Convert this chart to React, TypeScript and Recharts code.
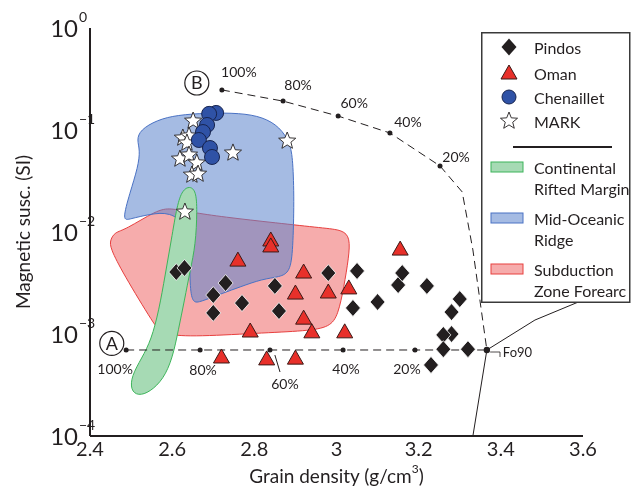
import React from 'react'
import { ScatterChart, Scatter, XAxis, YAxis, ReferenceDot, Legend } from 'recharts'

const FONT = 'Lato, "Open Sans", sans-serif'
const INK = '#231f20'

// samples
const pindosX = [2.61, 2.63, 2.73, 2.70, 2.70, 2.77, 2.85, 2.86, 2.98, 3.05, 3.04, 3.10, 3.15, 3.16, 3.22, 3.30, 3.28, 3.28, 3.26, 3.26, 3.32, 3.23]
const pindosY = [0.00405, 0.00444, 0.00316, 0.00241, 0.00161, 0.00201, 0.00296, 0.00168, 0.00396, 0.00415, 0.0018, 0.00206, 0.00302, 0.00396, 0.00296, 0.0022, 0.00164, 0.001, 0.00098, 0.00071, 0.00071, 0.000497]

const omanX = [2.84, 2.84, 2.76, 2.92, 2.90, 2.98, 3.03, 3.155, 2.92, 2.94, 2.79, 3.02, 2.72, 2.83, 2.90]
const omanY = [0.00835, 0.0073, 0.0053, 0.00405, 0.00252, 0.00258, 0.00283, 0.0068, 0.00143, 0.00105, 0.00107, 0.00105, 0.000595, 0.00057, 0.00058]

const chenX = [2.707, 2.69, 2.685, 2.675, 2.665, 2.692, 2.697]
const chenY = [0.147, 0.144, 0.112, 0.0955, 0.0798, 0.0666, 0.0544]

const markX = [2.651, 2.626, 2.641, 2.636, 2.619, 2.641, 2.66, 2.648, 2.663, 2.748, 2.88, 2.631]
const markY = [0.1225, 0.0835, 0.0873, 0.0746, 0.052, 0.0569, 0.0475, 0.0362, 0.037, 0.0596, 0.078, 0.0157]

// fields
const continentalX = [2.643, 2.658, 2.661, 2.657, 2.644, 2.630, 2.615, 2.601, 2.579, 2.546, 2.517, 2.499, 2.501, 2.526, 2.549, 2.568, 2.583, 2.598, 2.612, 2.625]
const continentalY = [0.02825, 0.02523, 0.01643, 0.00746, 0.00424, 0.00215, 0.00109, 0.000582, 0.000362, 0.00027, 0.000247, 0.000282, 0.000387, 0.000582, 0.000873, 0.00172, 0.00379, 0.00835, 0.01841, 0.02582]

const ridgeX = [2.478, 2.497, 2.517, 2.522, 2.514, 2.522, 2.563, 2.612, 2.685, 2.765, 2.821, 2.862, 2.887, 2.894, 2.897, 2.894, 2.887, 2.862, 2.819, 2.765, 2.724, 2.668, 2.651, 2.643, 2.643, 2.636, 2.595, 2.546, 2.497]
const ridgeY = [0.01282, 0.02411, 0.04338, 0.06368, 0.0798, 0.1, 0.1253, 0.1403, 0.1468, 0.1468, 0.1341, 0.107, 0.0746, 0.0508, 0.0206, 0.00667, 0.00405, 0.00362, 0.00346, 0.00289, 0.00252, 0.00206, 0.00201, 0.0027, 0.00667, 0.01172, 0.0157, 0.015, 0.0134]

const forearcX = [2.449, 2.461, 2.485, 2.563, 2.595, 2.643, 2.724, 2.855, 2.967, 3.016, 3.033, 3.030, 3.018, 3.004, 2.984, 2.928, 2.807, 2.643, 2.575, 2.558, 2.480, 2.449]
const forearcY = [0.00835, 0.01, 0.01047, 0.01643, 0.01719, 0.0157, 0.01403, 0.01225, 0.01094, 0.01047, 0.00873, 0.00569, 0.00289, 0.00154, 0.00117, 0.00107, 0.00102, 0.000935, 0.001, 0.0012, 0.00396, 0.00697]

// mixing curves
const curveBX = [2.721, 2.870, 3.004, 3.130, 3.252, 3.306, 3.332, 3.366]
const curveBY = [0.247, 0.192, 0.137, 0.0935, 0.0444, 0.0247, 0.00667, 0.000697]
const curveAX = [2.488, 2.668, 2.838, 3.016, 3.191, 3.366]
const curveAY = [0.000697, 0.000697, 0.000697, 0.000697, 0.000697, 0.000697]
const pctLabels = ['100%', '80%', '60%', '40%', '20%']
const leaderX = [2.850, 2.8625]
const leaderY = [0.000622, 0.000424]

const fo90X = [3.366]
const fo90Y = [0.000697]
const bracketX = [3.374, 3.398, 3.398]
const bracketY = [0.000666, 0.000666, 0.000595]
const upperX = [3.366, 3.483, 3.6]
const upperY = [0.000697, 0.00137, 0.00215]
const lowerX = [3.366, 3.332]
const lowerY = [0.000697, 0.0001]

const endLabels = ['A', 'B']
const endX = [2.453, 2.660]
const endY = [0.00081, 0.289]

const seriesNames = ['Pindos', 'Oman', 'Chenaillet', 'MARK']
const fieldNames = [['Continental', 'Rifted Margin'], ['Mid-Oceanic', 'Ridge'], ['Subduction', 'Zone Forearc']]

const xTicks = [2.4, 2.6, 2.8, 3, 3.2, 3.4, 3.6]
const yTicks = [0.0001, 0.001, 0.01, 0.1, 1]
const yExponents = ['−4', '−3', '−2', '−1', '0']
const minorTicks = yTicks.slice(0, 4).flatMap(d => [2, 3, 4, 5, 6, 7, 8, 9].map(m => m * d))

const pts = (xs: number[], ys: number[], labels?: string[]) =>
  xs.map((x, i) => ({ x, y: ys[i], i, label: labels ? labels[i] : undefined }))

const diamondPath = (cx: number, cy: number) => `M${cx},${cy - 8.5}L${cx + 7.5},${cy}L${cx},${cy + 8.5}L${cx - 7.5},${cy}Z`
const trianglePath = (cx: number, cy: number) => `M${cx},${cy - 8}L${cx + 8},${cy + 6}L${cx - 8},${cy + 6}Z`
const starPath = (cx: number, cy: number, R: number, r: number) => {
  const p: string[] = []
  for (let k = 0; k < 10; k++) {
    const a = (-90 + k * 36) * Math.PI / 180
    const rad = k % 2 === 0 ? R : r
    p.push(`${(cx + rad * Math.cos(a)).toFixed(2)},${(cy + rad * Math.sin(a)).toFixed(2)}`)
  }
  return `M${p.join('L')}Z`
}

const COLORS = {
  oman: '#e8302a',
  chen: '#2f52a6',
  green: '#a6dab4',
  greenLine: '#3db45a',
  blue: '#5b84cc',
  blueLine: '#4a72c4',
  pink: '#ee5a5a',
  pinkLine: '#e8403f'
}

const NoDot = () => <g />
const Diamond = (p: any) => <path d={diamondPath(p.cx, p.cy)} fill={INK} stroke="#fff" strokeWidth={0.8} />
const Triangle = (p: any) => <path d={trianglePath(p.cx, p.cy)} fill={COLORS.oman} stroke="#3b1a17" strokeWidth={1} />
const Dot = (p: any) => <circle cx={p.cx} cy={p.cy} r={7.5} fill={COLORS.chen} stroke="#17244f" strokeWidth={1} />
const Star = (p: any) => <path d={starPath(p.cx, p.cy, 9, 3.9)} fill="#fff" stroke={INK} strokeWidth={0.9} />

const bDx = [17, 15, 16, 18, 16]
const bDy = [-18, -17, -14, -11, -9]
const aDx = [-11, 3, 15, 3, -8]
const aDy = [19, 20, 34, 19, 19]

const pctShape = (dx: number[], dy: number[]) => (p: any) => {
  const i = p.payload.i
  return (
    <g>
      <circle cx={p.cx} cy={p.cy} r={2.5} fill={INK} />
      <text x={p.cx + dx[i]} y={p.cy + dy[i]} textAnchor="middle" dominantBaseline="central" fontSize={14} fontFamily={FONT} fill={INK}>
        {p.payload.label}
      </text>
    </g>
  )
}

const Fo90Shape = (p: any) => (
  <g>
    <circle cx={p.cx} cy={p.cy} r={3.2} fill={INK} />
    <text x={p.cx + 16} y={p.cy + 2} dominantBaseline="central" fontSize={13} fontFamily={FONT} fill={INK}>Fo90</text>
  </g>
)

function YTick(props: any) {
  const { x, y, payload } = props
  const k = yTicks.findIndex(t => Math.abs(Math.log10(t) - Math.log10(payload.value)) < 1e-6)
  return (
    <g fontFamily={FONT} fill={INK}>
      <text x={x} y={y - 1} textAnchor="end" dominantBaseline="central" fontSize={24}>10</text>
      <text x={x + 1} y={y - 12} dominantBaseline="central" fontSize={14}>{yExponents[k]}</text>
    </g>
  )
}

const YLabel = (p: any) => {
  const vb = p.viewBox ?? { x: 30, y: 28, width: 60, height: 408 }
  const cx = vb.x - 8
  const cy = vb.y + vb.height / 2
  return (
    <text x={cx} y={cy} transform={`rotate(-90, ${cx}, ${cy})`} textAnchor="middle" dominantBaseline="central" fontSize={19} fontFamily={FONT} fill={INK}>
      Magnetic susc. (SI)
    </text>
  )
}

const XLabel = (p: any) => {
  const vb = p.viewBox ?? { x: 90, y: 436, width: 493, height: 40 }
  return (
    <text x={vb.x + vb.width / 2} y={vb.y + 39} textAnchor="middle" dominantBaseline="central" fontSize={19} fontFamily={FONT} fill={INK}>
      <tspan>Grain density (g/cm</tspan>
      <tspan dy={-7} fontSize={12}>3</tspan>
      <tspan dy={7}>)</tspan>
    </text>
  )
}

function LegendBox() {
  const glyphs = [
    <path key="d" d={diamondPath(28, 15)} fill={INK} />,
    <path key="t" d={trianglePath(28, 41)} fill={COLORS.oman} stroke="#3b1a17" strokeWidth={1} />,
    <circle key="c" cx={28} cy={65} r={7} fill={COLORS.chen} stroke="#17244f" strokeWidth={1} />,
    <path key="s" d={starPath(28, 89, 9, 3.9)} fill="#fff" stroke={INK} strokeWidth={0.9} />
  ]
  const swatch = [
    { fill: COLORS.green, stroke: COLORS.greenLine, op: 1 },
    { fill: COLORS.blue, stroke: COLORS.blueLine, op: 0.55 },
    { fill: COLORS.pink, stroke: COLORS.pinkLine, op: 0.5 }
  ]
  const rowY = [15, 41, 65, 89]
  const fieldY = [135, 186, 237]
  return (
    <svg width={150} height={271} style={{ overflow: 'visible', display: 'block' }}>
      <rect x={0.75} y={0.75} width={148} height={269.5} fill="#fff" stroke="#3a3a3a" strokeWidth={1.5} />
      {glyphs}
      {seriesNames.map((n, i) => (
        <text key={n} x={53} y={rowY[i]} dominantBaseline="central" fontSize={16} fontFamily={FONT} fill={INK}>{n}</text>
      ))}
      <line x1={32} x2={131} y1={115} y2={115} stroke={INK} strokeWidth={2} />
      {fieldNames.map((lines, i) => (
        <g key={lines[0]}>
          <rect x={10} y={fieldY[i] - 5} width={32} height={10} fill={swatch[i].fill} fillOpacity={swatch[i].op} stroke={swatch[i].stroke} strokeWidth={1} />
          <text x={53} y={fieldY[i]} dominantBaseline="central" fontSize={16} fontFamily={FONT} fill={INK}>{lines[0]}</text>
          <text x={53} y={fieldY[i] + 21} dominantBaseline="central" fontSize={16} fontFamily={FONT} fill={INK}>{lines[1]}</text>
        </g>
      ))}
    </svg>
  )
}

const axisLine = { stroke: INK, strokeWidth: 2 }
const tickLine = { stroke: INK, strokeWidth: 1.3 }

export default function App() {
  return (
    <div style={{ position: 'absolute', left: 0, top: 0 }}>
      <ScatterChart width={631} height={489} margin={{ top: 28, right: 48, bottom: 13, left: 30 }}>
        <XAxis type="number" dataKey="x" domain={[2.4, 3.6]} ticks={xTicks} allowDataOverflow height={40}
          tickLine={false} tickSize={0} tickMargin={8} axisLine={axisLine}
          tick={{ fontSize: 20, fill: INK, fontFamily: FONT, dy: -2 }} label={XLabel} />
        <XAxis xAxisId="bm" type="number" domain={[2.4, 3.6]} ticks={xTicks} allowDataOverflow orientation="bottom" mirror height={0}
          axisLine={false} tick={false} tickSize={6} tickLine={tickLine} />
        <XAxis xAxisId="top" type="number" domain={[2.4, 3.6]} ticks={xTicks} allowDataOverflow orientation="top" mirror height={0}
          axisLine={axisLine} tick={false} tickSize={6} tickLine={tickLine} />
        <YAxis type="number" dataKey="y" scale="log" domain={[0.0001, 1]} ticks={yTicks} allowDataOverflow width={60}
          tickLine={false} tickSize={0} tickMargin={12} axisLine={axisLine} tick={<YTick />} label={YLabel} />
        <YAxis yAxisId="lmaj" type="number" scale="log" domain={[0.0001, 1]} ticks={yTicks} allowDataOverflow mirror width={0}
          axisLine={false} tick={false} tickSize={7} tickLine={tickLine} />
        <YAxis yAxisId="lmin" type="number" scale="log" domain={[0.0001, 1]} ticks={minorTicks} allowDataOverflow mirror width={0}
          axisLine={false} tick={false} tickSize={3.5} tickLine={tickLine} />
        <YAxis yAxisId="rmaj" type="number" scale="log" domain={[0.0001, 1]} ticks={yTicks} allowDataOverflow orientation="right" mirror width={0}
          axisLine={axisLine} tick={false} tickSize={7} tickLine={tickLine} />
        <YAxis yAxisId="rmin" type="number" scale="log" domain={[0.0001, 1]} ticks={minorTicks} allowDataOverflow orientation="right" mirror width={0}
          axisLine={false} tick={false} tickSize={3.5} tickLine={tickLine} />

        <Scatter name="Subduction Zone Forearc" data={pts(forearcX, forearcY)} shape={NoDot} isAnimationActive={false} legendType="none"
          line={{ fill: COLORS.pink, fillOpacity: 0.5, stroke: COLORS.pinkLine, strokeWidth: 1 }} lineJointType="basisClosed" />
        <Scatter name="Mid-Oceanic Ridge" data={pts(ridgeX, ridgeY)} shape={NoDot} isAnimationActive={false} legendType="none"
          line={{ fill: COLORS.blue, fillOpacity: 0.55, stroke: COLORS.blueLine, strokeWidth: 1 }} lineJointType="basisClosed" />
        <Scatter name="Continental Rifted Margin" data={pts(continentalX, continentalY)} shape={NoDot} isAnimationActive={false} legendType="none"
          line={{ fill: COLORS.green, fillOpacity: 1, stroke: COLORS.greenLine, strokeWidth: 1, style: { mixBlendMode: 'multiply' } }} lineJointType="basisClosed" />

        <Scatter data={pts(curveBX, curveBY)} shape={NoDot} isAnimationActive={false} legendType="none"
          line={{ stroke: INK, strokeWidth: 1, strokeDasharray: '8 5' }} lineJointType="linear" />
        <Scatter data={pts(curveAX, curveAY)} shape={NoDot} isAnimationActive={false} legendType="none"
          line={{ stroke: INK, strokeWidth: 1, strokeDasharray: '8 5' }} lineJointType="linear" />
        <Scatter data={pts(upperX, upperY)} shape={NoDot} isAnimationActive={false} legendType="none"
          line={{ stroke: INK, strokeWidth: 1 }} lineJointType="linear" />
        <Scatter data={pts(lowerX, lowerY)} shape={NoDot} isAnimationActive={false} legendType="none"
          line={{ stroke: INK, strokeWidth: 1 }} lineJointType="linear" />
        <Scatter data={pts(leaderX, leaderY)} shape={NoDot} isAnimationActive={false} legendType="none"
          line={{ stroke: INK, strokeWidth: 1 }} lineJointType="linear" />
        <Scatter data={pts(bracketX, bracketY)} shape={NoDot} isAnimationActive={false} legendType="none"
          line={{ stroke: INK, strokeWidth: 0.8 }} lineJointType="linear" />
        <Scatter data={pts(curveBX.slice(0, 5), curveBY.slice(0, 5), pctLabels)} shape={pctShape(bDx, bDy)} isAnimationActive={false} legendType="none" />
        <Scatter data={pts(curveAX.slice(0, 5), curveAY.slice(0, 5), pctLabels)} shape={pctShape(aDx, aDy)} isAnimationActive={false} legendType="none" />
        <Scatter data={pts(fo90X, fo90Y)} shape={Fo90Shape} isAnimationActive={false} legendType="none" />

        <Scatter name="Oman" data={pts(omanX, omanY)} shape={Triangle} isAnimationActive={false} />
        <Scatter name="Pindos" data={pts(pindosX, pindosY)} shape={Diamond} isAnimationActive={false} />
        <Scatter name="MARK" data={pts(markX, markY)} shape={Star} isAnimationActive={false} />
        <Scatter name="Chenaillet" data={pts(chenX, chenY)} shape={Dot} isAnimationActive={false} />

        {endLabels.map((l, i) => (
          <ReferenceDot key={l} x={endX[i]} y={endY[i]} r={12} fill="#fff" stroke={INK} strokeWidth={1.2}
            label={{ value: l, position: 'center', fontSize: 18, fill: INK, fontFamily: FONT }} />
        ))}

        <Legend content={() => <LegendBox />} layout="vertical" align="center" verticalAlign="middle"
          wrapperStyle={{ left: 481, top: 32, width: 150, height: 271 }} />
      </ScatterChart>
    </div>
  )
}
